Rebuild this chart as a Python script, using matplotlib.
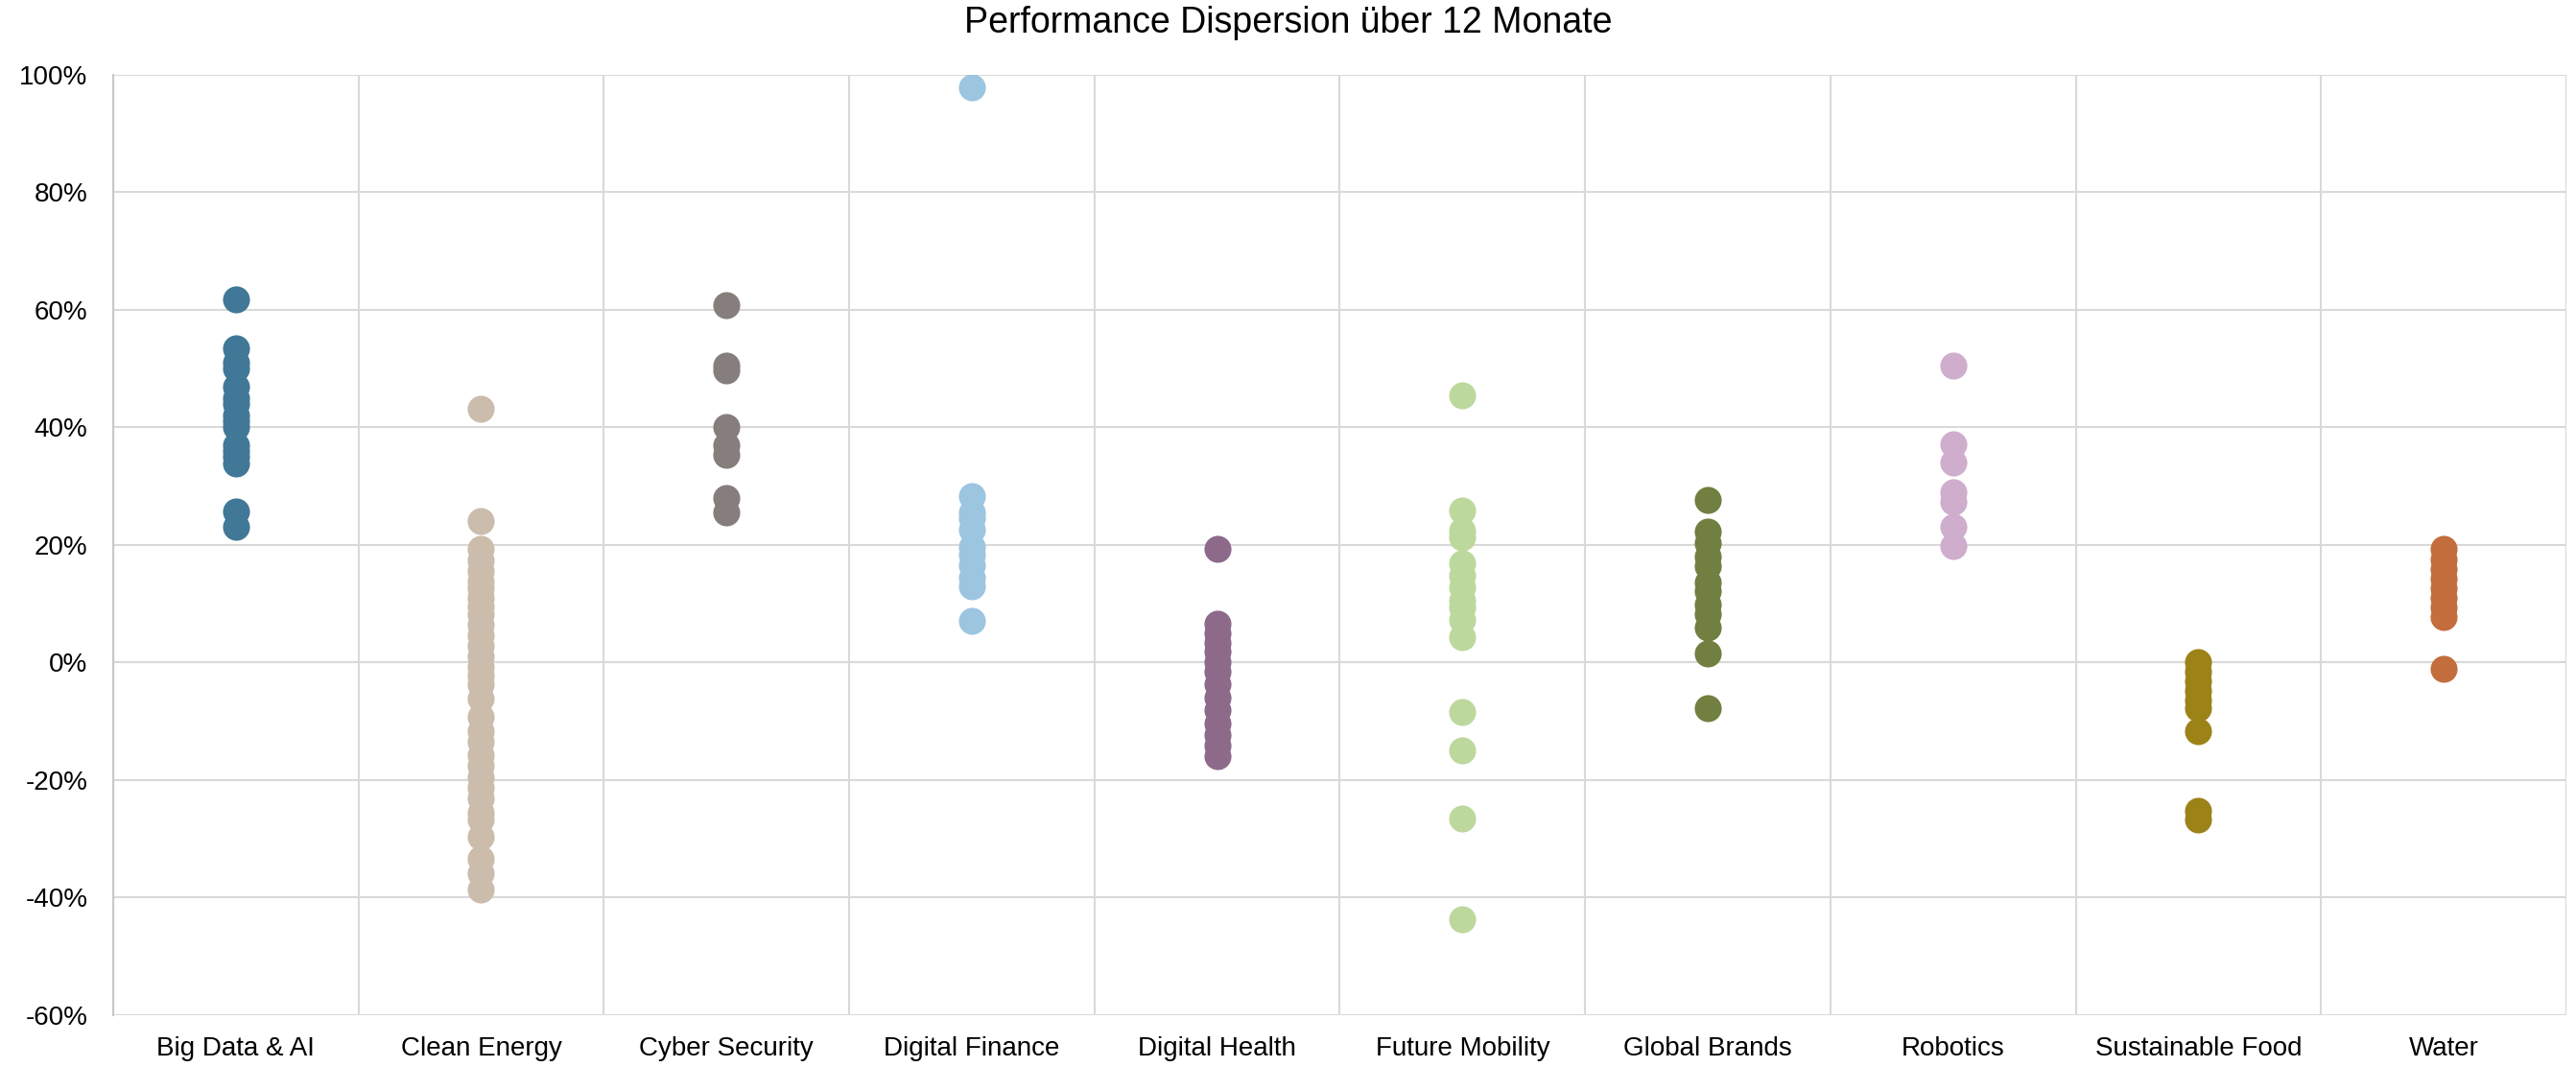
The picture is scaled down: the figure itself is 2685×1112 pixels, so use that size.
import numpy as np
import matplotlib.pyplot as plt
from matplotlib.ticker import FixedLocator, FuncFormatter

plt.rcParams['font.family'] = ['Liberation Sans', 'DejaVu Sans']

categories = ["Big Data & AI", "Clean Energy", "Cyber Security", "Digital Finance",
              "Digital Health", "Future Mobility", "Global Brands", "Robotics",
              "Sustainable Food", "Water"]

colors = ["#417897", "#CBBCAC", "#867E7C", "#9CC5DF", "#8D6A8A",
          "#BDD89D", "#717F40", "#CFADCC", "#9D8218", "#C46D3D"]

# performance in percent
big_data = [61.8, 53.4, 51.0, 50.0, 47.0, 45.0, 44.0, 42.0, 41.0, 40.0, 37.0, 36.0, 35.0, 33.8, 25.7, 23.1]
clean_energy = [43.2, 24.1, 19.3, 17.4, 15.6, 13.8, 12.6, 11.0, 9.5, 8.3, 6.5, 4.7, 2.9, 1.1, -0.7,
                -2.2, -3.7, -6.2, -9.2, -11.6, -13.4, -15.8, -17.6, -19.5, -21.3, -23.1, -25.5,
                -26.7, -29.7, -33.4, -35.8, -38.7]
cyber_security = [60.8, 50.5, 49.7, 40.0, 37.0, 35.4, 28.0, 25.6]
digital_finance = [97.9, 28.4, 25.5, 24.5, 22.6, 19.7, 18.4, 16.5, 14.5, 12.9, 7.1]
digital_health = [19.3, 6.6, 5.0, 3.4, 1.8, 0.1, -1.5, -3.7, -5.9, -8.1, -10.3, -12.4, -14.1, -16.0]
future_mobility = [45.4, 25.8, 22.5, 21.3, 16.9, 14.7, 12.8, 10.6, 9.4, 7.2, 4.4, -8.4, -14.9, -26.6, -43.6]
global_brands = [27.6, 22.2, 20.3, 18.1, 16.4, 13.7, 12.1, 9.9, 8.2, 6.0, 1.5, -7.7]
robotics = [50.6, 37.1, 34.0, 29.0, 27.4, 23.1, 19.8]
sustainable_food = [0.1, -1.5, -3.2, -4.8, -6.4, -7.8, -11.6, -25.3, -26.7]
water = [19.3, 17.5, 15.9, 14.2, 12.6, 11.0, 9.3, 7.7, -1.1]

series = [big_data, clean_energy, cyber_security, digital_finance, digital_health,
          future_mobility, global_brands, robotics, sustainable_food, water]

fig = plt.figure(figsize=(26.85, 11.12), dpi=100)
ax = fig.add_axes([0.0439, 0.0486, 0.9524, 0.8813])

for i, (vals, col) in enumerate(zip(series, colors)):
    ax.scatter([i] * len(vals), vals, s=410, color=col, linewidths=0, zorder=3)

ax.set_xlim(-0.5, len(categories) - 0.5)
ax.set_ylim(-60, 100)

ax.set_xticks(range(len(categories)))
ax.set_xticklabels(categories, fontsize=20)
ax.xaxis.set_minor_locator(FixedLocator(np.arange(-0.5, len(categories), 1)))
ax.set_yticks(np.arange(-60, 101, 20))
ax.yaxis.set_major_formatter(FuncFormatter(lambda v, p: f"{v:.0f}%"))
ax.tick_params(axis='y', labelsize=20, length=0, pad=19)
ax.tick_params(axis='x', which='both', length=0, pad=16)

ax.grid(True, axis='y', color='#d9d9d9', linewidth=1.5, zorder=0)
ax.grid(True, axis='x', which='minor', color='#d9d9d9', linewidth=1.5, zorder=0)
ax.axhline(0, color='#bdbdbd', linewidth=1.5, zorder=1)

for side in ['top', 'right', 'bottom']:
    ax.spines[side].set_visible(False)
ax.spines['left'].set_color('#c8c8c8')
ax.spines['left'].set_linewidth(1.5)

fig.suptitle("Performance Dispersion über 12 Monate", fontsize=27, y=0.995, va='top')

fig.savefig("out.png", dpi=100)
